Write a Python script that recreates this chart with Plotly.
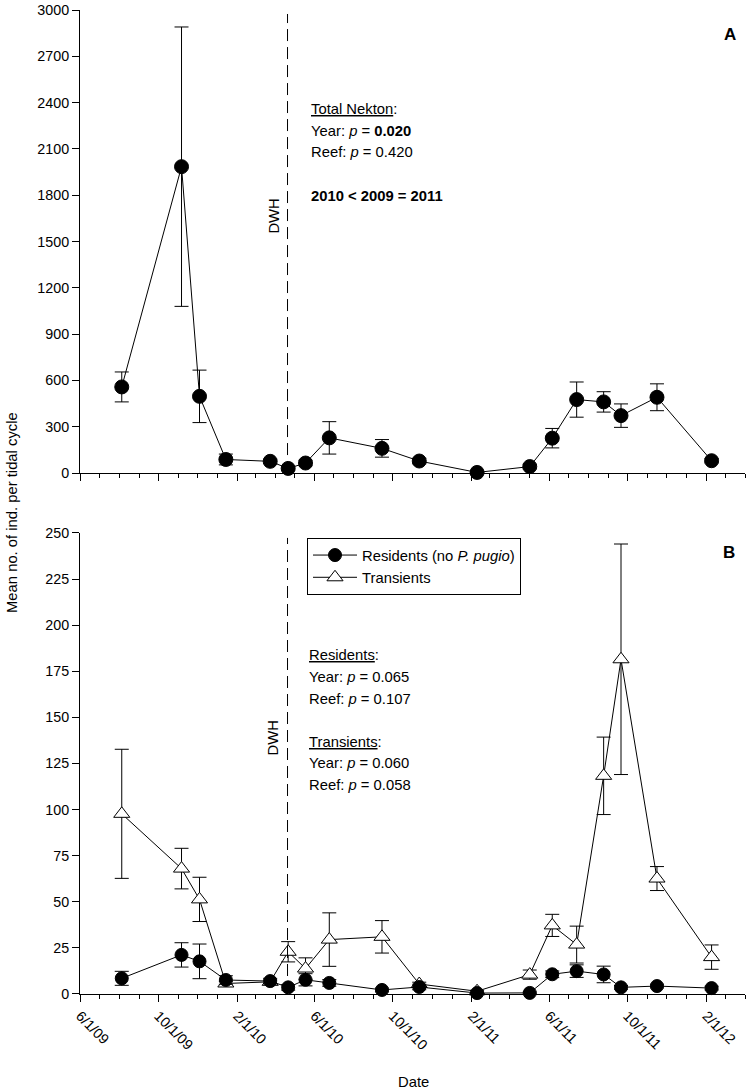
import plotly.graph_objects as go

# ---------------- data ----------------
dates = ["2009-08-05", "2009-11-06", "2009-12-04", "2010-01-14", "2010-03-24",
         "2010-04-21", "2010-05-18", "2010-06-24", "2010-09-14", "2010-11-11",
         "2011-02-09", "2011-05-02", "2011-06-06", "2011-07-14", "2011-08-25",
         "2011-09-21", "2011-11-16", "2012-02-09"]

total_mean = [558, 1985, 497, 88, 76, 30, 65, 228, 160, 78, 4, 42, 226, 476, 461, 372, 491, 80]
total_se = [97, 905, 170, 35, 14, 10, 18, 105, 57, 18, 3, 15, 63, 114, 66, 76, 87, 14]

res_mean = [8.5, 21.2, 17.7, 7.6, 7.0, 3.6, 7.7, 6.0, 2.2, 3.8, 0.5, 0.6, 10.7, 12.4, 10.6, 3.6, 4.3, 3.2]
res_se = [3.8, 6.6, 9.4, 2.3, 1.5, 1.5, 3.3, 1.8, 1.0, 1.5, 0.4, 0.5, 1.8, 3.4, 4.5, 1.0, 1.0, 1.0]

tra_mean = [97.7, 68.0, 51.3, 5.7, 6.6, 22.9, 13.8, 29.5, 31.0, 5.4, 1.5, 10.5, 37.2, 26.8, 118.3, 181.5, 62.6, 20.0]
tra_se = [35.0, 11.0, 12.0, 1.2, 1.0, 5.5, 5.8, 14.5, 8.8, 1.0, 0.5, 2.5, 6.0, 10.0, 21.0, 62.5, 6.5, 6.6]

dwh_date = "2010-04-20"
x_range = ["2009-06-01", "2012-04-01"]
tick_vals = ["2009-06-01", "2009-10-01", "2010-02-01", "2010-06-01", "2010-10-01",
             "2011-02-01", "2011-06-01", "2011-10-01", "2012-02-01"]
tick_text = ["6/1/09", "10/1/09", "2/1/10", "6/1/10", "10/1/10",
             "2/1/11", "6/1/11", "10/1/11", "2/1/12"]
yA_ticks = [0, 300, 600, 900, 1200, 1500, 1800, 2100, 2400, 2700, 3000]
yB_ticks = [0, 25, 50, 75, 100, 125, 150, 175, 200, 225, 250]

# ---------------- layout helpers ----------------
W, H = 747, 1092
L, R, T, B = 80, 2, 8, 98
PW, PH = W - L - R, H - T - B
FONT = "Liberation Sans, Arial, sans-serif"
FS = 14.8
TFS = 14.3


def px(xp):
    return (xp - L) / PW


def py(yp):
    return (H - B - yp) / PH


fig = go.Figure()

# Panel A
fig.add_trace(go.Scatter(
    x=dates, y=total_mean, mode="lines+markers", showlegend=False,
    line=dict(color="black", width=1),
    marker=dict(symbol="circle", size=14, color="black", line=dict(color="black", width=1)),
    error_y=dict(type="data", array=total_se, visible=True, color="black", thickness=1, width=7),
    xaxis="x", yaxis="y", cliponaxis=False))

# Panel B
fig.add_trace(go.Scatter(
    x=dates, y=tra_mean, mode="lines+markers", name="Transients",
    line=dict(color="black", width=1),
    marker=dict(symbol="triangle-up", size=14, color="white", line=dict(color="black", width=1)),
    error_y=dict(type="data", array=tra_se, visible=True, color="black", thickness=1, width=7),
    xaxis="x2", yaxis="y2", cliponaxis=False, legendrank=2))
fig.add_trace(go.Scatter(
    x=dates, y=res_mean, mode="lines+markers", name="Residents (no <i>P. pugio</i>)",
    line=dict(color="black", width=1),
    marker=dict(symbol="circle", size=13, color="black", line=dict(color="black", width=1)),
    error_y=dict(type="data", array=res_se, visible=True, color="black", thickness=1, width=7),
    xaxis="x2", yaxis="y2", cliponaxis=False, legendrank=1))

yA_dom = [py(472), 1.0]
yB_dom = [0.0, py(532)]

xcommon = dict(
    type="date", range=x_range, showline=True, linecolor="black", linewidth=1,
    ticks="outside", ticklen=7, tickwidth=1, tickcolor="black",
    tickmode="array", tickvals=tick_vals, ticktext=tick_text,
    minor=dict(tickmode="linear", tick0="2009-06-01", dtick="M1", ticks="outside",
               ticklen=4, tickwidth=1, tickcolor="black"),
    showgrid=False, zeroline=False, tickangle=45,
    tickfont=dict(family=FONT, size=TFS, color="black"),
)
ycommon = dict(
    showline=True, linecolor="black", linewidth=1, ticks="outside", ticklen=7,
    tickwidth=1, tickcolor="black", showgrid=False, zeroline=False,
    tickfont=dict(family=FONT, size=TFS, color="black"), tickmode="array",
)

fig.update_layout(
    width=W, height=H,
    margin=dict(l=L, r=R, t=T, b=B),
    paper_bgcolor="white", plot_bgcolor="white",
    font=dict(family=FONT, size=FS, color="black"),
    xaxis=dict(**xcommon, domain=[0, 1], anchor="y", showticklabels=False),
    yaxis=dict(**ycommon, domain=yA_dom, range=[0, 3000], tickvals=yA_ticks, anchor="x"),
    xaxis2=dict(**xcommon, domain=[0, 1], anchor="y2", showticklabels=True),
    yaxis2=dict(**ycommon, domain=yB_dom, range=[0, 250], tickvals=yB_ticks, anchor="x2"),
    showlegend=True,
    legend=dict(x=px(307), y=py(537), xanchor="left", yanchor="top",
                bordercolor="black", borderwidth=1, bgcolor="white",
                font=dict(family=FONT, size=FS, color="black"),
                traceorder="normal", itemwidth=44, tracegroupgap=0),
)

# DWH dashed lines
fig.add_shape(type="line", xref="x", yref="paper", x0=dwh_date, x1=dwh_date,
              y0=py(472), y1=py(12), line=dict(color="black", width=1, dash="12px,6px"))
fig.add_shape(type="line", xref="x2", yref="paper", x0=dwh_date, x1=dwh_date,
              y0=0, y1=py(537), line=dict(color="black", width=1, dash="12px,6px"))

ann = []


def txt(text, xp, yp, size=FS, anchor="left", angle=0):
    ann.append(dict(text=text, x=px(xp), y=py(yp), xref="paper", yref="paper",
                    xanchor=anchor, yanchor="middle", showarrow=False, textangle=angle,
                    font=dict(family=FONT, size=size, color="black")))


# Panel A texts
txt("<u>Total Nekton</u>:", 309, 107)
txt("Year: <i>p</i> = <b>0.020</b>", 309, 129)
txt("Reef: <i>p</i> = 0.420", 309, 150)
txt("<b>2010 &lt; 2009 = 2011</b>", 309, 194)
txt("<b>A</b>", 730, 33, size=17, anchor="center")
txt("DWH", 274, 215, anchor="center", angle=-90)

# Panel B texts
txt("<u>Residents</u>:", 307, 654)
txt("Year: <i>p</i> = 0.065", 307, 676)
txt("Reef: <i>p</i> = 0.107", 307, 698)
txt("<u>Transients</u>:", 307, 741)
txt("Year: <i>p</i> = 0.060", 307, 763)
txt("Reef: <i>p</i> = 0.058", 307, 785)
txt("<b>B</b>", 729, 552, size=17, anchor="center")
txt("DWH", 273, 738, anchor="center", angle=-90)

# Axis titles
txt("Mean no. of ind. per tidal cycle", 12, 512, anchor="center", angle=-90)
txt("Date", 413, 1082, anchor="center")

fig.update_layout(annotations=ann)

fig.write_html("out.html", config={"displayModeBar": False},
               post_script="document.body.style.margin='0px';")
